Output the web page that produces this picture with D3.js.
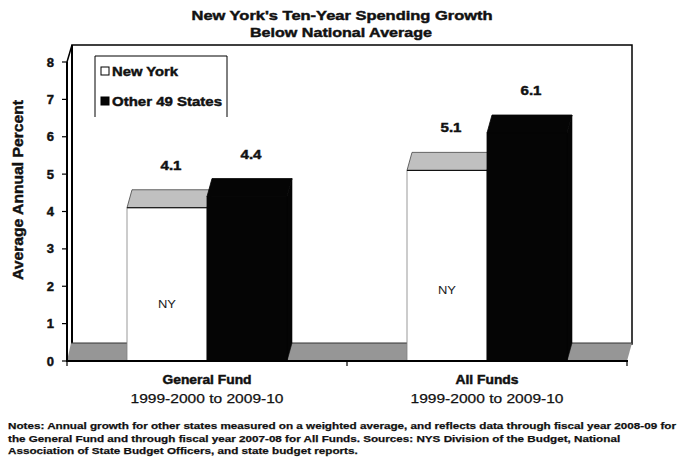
<!DOCTYPE html>
<html><head><meta charset="utf-8">
<script src="https://cdn.jsdelivr.net/npm/d3@7"></script>
<style>
html,body{margin:0;padding:0;background:#fff;}
svg{display:block;font-family:"Liberation Sans",Arial,sans-serif;}
.heavy{stroke:#111;stroke-width:0.45px;paint-order:fill;}
.semi{stroke:#111;stroke-width:0.25px;}
</style></head>
<body><svg id="c" width="678" height="461"></svg>
<script>
// ---- data ----
const categories = ["General Fund", "All Funds"];
const periodLabels = ["1999-2000 to 2009-10", "1999-2000 to 2009-10"];
const seriesNames = ["New York", "Other 49 States"];
const newYork = [4.1, 5.1];
const otherStates = [4.4, 6.1];
const yTicks = [0, 1, 2, 3, 4, 5, 6, 7, 8];
const titleLines = ["New York's Ten-Year Spending Growth", "Below National Average"];
const yTitle = "Average Annual Percent";
const notes = [
  "Notes: Annual growth for other states measured on a weighted average, and reflects data through fiscal year 2008-09 for",
  "the General Fund and through fiscal year 2007-08 for All Funds. Sources: NYS Division of the Budget, National",
  "Association of State Budget Officers, and state budget reports."
];

const svg = d3.select("#c");
const X0 = 67, X1 = 627, Y0 = 361, Y1 = 62;
const DX = 5, DY = -18;

const y = d3.scaleLinear().domain([0, 8]).range([Y0, Y1]);
const x = d3.scaleBand().domain(categories).range([X0, X1]).paddingInner(0.4286).paddingOuter(0.2143);
const xs = d3.scaleBand().domain(seriesNames).range([0, x.bandwidth()]);

function fit(sel, w) { sel.attr("textLength", w).attr("lengthAdjust", "spacingAndGlyphs"); return sel; }

// back wall
svg.append("rect").attr("x", X0 + DX).attr("y", Y1 + DY + 1).attr("width", X1 - X0).attr("height", Y0 - Y1)
  .attr("fill", "#fff").attr("stroke", "#000").attr("stroke-width", 1.5);
// side wall
svg.append("path").attr("d", `M${X0},${Y1}L${X0+DX},${Y1+DY+1}L${X0+DX},${Y0+DY}L${X0},${Y0}Z`)
  .attr("fill", "#fff").attr("stroke", "none");
svg.append("line").attr("x1", X0 + DX).attr("x2", X0 + DX).attr("y1", Y1 + DY + 1).attr("y2", Y0 + DY)
  .attr("stroke", "#000").attr("stroke-width", 2);
svg.append("line").attr("x1", X0).attr("x2", X0 + DX).attr("y1", Y1).attr("y2", Y1 + DY + 1)
  .attr("stroke", "#000").attr("stroke-width", 1.5);
// floor
svg.append("path").attr("d", `M${X0},${Y0}L${X0+DX-1},${Y0+DY}L${X1+DX},${Y0+DY}L${X1},${Y0}Z`)
  .attr("fill", "#969696").attr("stroke", "none");
svg.append("line").attr("x1", X0 + DX - 1).attr("x2", X1 + DX).attr("y1", Y0 + DY).attr("y2", Y0 + DY)
  .attr("stroke", "#333").attr("stroke-width", 1);

// bars
const seriesData = [newYork, otherStates];
const styles = [
  { front: "#fff", top: "#c0c0c0", side: "#808080", stroke: "#808080" },
  { front: "#050505", top: "#050505", side: "#050505", stroke: "#050505" }
];
categories.forEach((cat, ci) => {
  seriesNames.forEach((s, si) => {
    const v = seriesData[si][ci];
    const bx = x(cat) + xs(s), bw = xs.bandwidth(), ty = y(v);
    const st = styles[si];
    const g = svg.append("g");
    g.append("path").attr("d", `M${bx+bw},${Y0}L${bx+bw+DX},${Y0+DY}L${bx+bw+DX},${ty+DY}L${bx+bw},${ty}Z`)
      .attr("fill", st.side).attr("stroke", st.stroke).attr("stroke-width", 0.6);
    g.append("path").attr("d", `M${bx},${ty}L${bx+DX},${ty+DY}L${bx+bw+DX},${ty+DY}L${bx+bw},${ty}Z`)
      .attr("fill", st.top).attr("stroke", si === 0 ? "#444" : st.stroke).attr("stroke-width", 0.8);
    g.append("rect").attr("x", bx).attr("y", ty).attr("width", bw).attr("height", Y0 - ty)
      .attr("fill", st.front).attr("stroke", st.stroke).attr("stroke-width", 0.8);
    if (si === 0) {
      g.append("line").attr("x1", bx).attr("x2", bx + bw).attr("y1", ty).attr("y2", ty)
        .attr("stroke", "#000").attr("stroke-width", 1);
      fit(g.append("text").attr("x", bx + bw / 2).attr("y", y(v * 0.37) + 4)
        .attr("text-anchor", "middle").attr("font-size", 11).attr("fill", "#222").text("NY"), 18);
    }
    fit(svg.append("text").attr("class", "heavy").attr("x", bx + bw / 2 + 4).attr("y", ty + DY - 20)
      .attr("text-anchor", "middle").attr("font-size", 13).attr("font-weight", "bold").attr("fill", "#111")
      .text(v.toFixed(1)), 21);
  });
});

// axes
svg.append("line").attr("x1", X0).attr("x2", X0).attr("y1", Y1).attr("y2", Y0 + 1)
  .attr("stroke", "#000").attr("stroke-width", 2);
svg.append("line").attr("x1", X0 - 1).attr("x2", X1 + 1).attr("y1", Y0).attr("y2", Y0)
  .attr("stroke", "#000").attr("stroke-width", 2.2);
svg.selectAll(".yt").data(yTicks).enter().append("line")
  .attr("x1", X0 - 5).attr("x2", X0).attr("y1", d => y(d)).attr("y2", d => y(d))
  .attr("stroke", "#000").attr("stroke-width", 1.2);
svg.selectAll(".yl").data(yTicks).enter().append("text").attr("class", "heavy")
  .attr("x", 54).attr("y", d => y(d) + 4.5).attr("text-anchor", "end")
  .attr("font-size", 13).attr("font-weight", "bold").attr("fill", "#111").text(d => d);
const xTickPos = [X0, (X0 + X1) / 2, X1];
svg.selectAll(".xt").data(xTickPos).enter().append("line")
  .attr("x1", d => d).attr("x2", d => d).attr("y1", Y0).attr("y2", Y0 + 5)
  .attr("stroke", "#000").attr("stroke-width", 1.2);

// category labels
categories.forEach((cat, i) => {
  const cx = x(cat) + x.bandwidth() / 2;
  fit(svg.append("text").attr("class", "heavy").attr("x", cx).attr("y", 384).attr("text-anchor", "middle")
    .attr("font-size", 12).attr("font-weight", "bold").attr("fill", "#111").text(cat), i === 0 ? 89 : 63);
  fit(svg.append("text").attr("class", "semi").attr("x", cx).attr("y", 403).attr("text-anchor", "middle")
    .attr("font-size", 13.5).attr("fill", "#111").text(periodLabels[i]), 153);
});

// title
fit(svg.append("text").attr("class", "heavy").attr("x", 342).attr("y", 20).attr("text-anchor", "middle")
  .attr("font-size", 13).attr("font-weight", "bold").attr("fill", "#111").text(titleLines[0]), 301);
fit(svg.append("text").attr("class", "heavy").attr("x", 341).attr("y", 37).attr("text-anchor", "middle")
  .attr("font-size", 13).attr("font-weight", "bold").attr("fill", "#111").text(titleLines[1]), 182);

// y title
fit(svg.append("text").attr("class", "heavy").attr("transform", "translate(23,190) rotate(-90)").attr("text-anchor", "middle")
  .attr("font-size", 15).attr("font-weight", "bold").attr("fill", "#111").text(yTitle), 180);

// legend
svg.append("path").attr("d", "M95,117L95,56L227,56L227,117").attr("fill", "#fff").attr("stroke", "#000").attr("stroke-width", 1);
svg.append("rect").attr("x", 101).attr("y", 67).attr("width", 8).attr("height", 8).attr("fill", "#fff").attr("stroke", "#000").attr("stroke-width", 1);
svg.append("rect").attr("x", 101).attr("y", 97).attr("width", 8).attr("height", 8).attr("fill", "#050505").attr("stroke", "#000").attr("stroke-width", 1);
fit(svg.append("text").attr("class", "heavy").attr("x", 112).attr("y", 76).attr("font-size", 12.5).attr("font-weight", "bold").attr("fill", "#111").text(seriesNames[0]), 66);
fit(svg.append("text").attr("class", "heavy").attr("x", 112).attr("y", 106).attr("font-size", 12.5).attr("font-weight", "bold").attr("fill", "#111").text(seriesNames[1]), 110);

// notes
const nt = svg.selectAll(".note").data(notes).enter().append("text").attr("class", "semi")
  .attr("x", 8).attr("y", (d, i) => 429 + i * 12.5)
  .attr("font-size", 9.5).attr("font-weight", "bold").attr("fill", "#111").text(d => d);
const nat0 = nt.nodes()[0].getComputedTextLength();
const k = 668 / nat0;
nt.each(function () {
  const w = this.getComputedTextLength();
  d3.select(this).attr("textLength", w * k).attr("lengthAdjust", "spacingAndGlyphs");
});
</script>
</body></html>
